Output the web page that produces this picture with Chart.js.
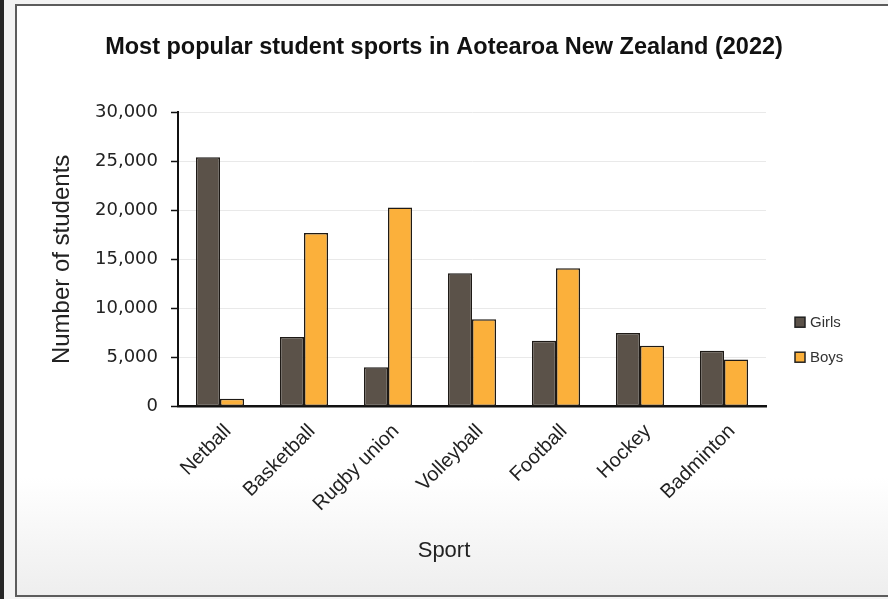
<!DOCTYPE html>
<html>
<head>
<meta charset="utf-8">
<script src="https://cdn.jsdelivr.net/npm/chart.js@4.4.1/dist/chart.umd.min.js"></script>
<style>
  html, body { margin: 0; padding: 0; width: 888px; height: 599px; overflow: hidden; background: #f3f3f3; }
  #strip { position: absolute; left: 0; top: 0; width: 4px; height: 599px; background: #262626; }
  #frame { position: absolute; left: 15px; top: 4px; width: 880px; height: 589px;
           border-top: 2px solid #5c5c5c; border-left: 2px solid #5c5c5c; border-bottom: 2px solid #5c5c5c;
           background: linear-gradient(to bottom, #ffffff 0%, #ffffff 80%, #eeeeee 100%); }
  #c { position: absolute; left: 0; top: 0; }
</style>
</head>
<body>
<div id="strip"></div>
<div id="frame"></div>
<canvas id="c" width="888" height="599"></canvas>
<script>
const categories = ["Netball", "Basketball", "Rugby union", "Volleyball", "Football", "Hockey", "Badminton"];
const girls = [25400, 7100, 4000, 13600, 6700, 7500, 5700];
const boys  = [800, 17700, 20300, 8900, 14100, 6200, 4800];
const seriesNames = ["Girls", "Boys"];
const yTicks = [0, 5000, 10000, 15000, 20000, 25000, 30000];

const legendPlugin = {
  id: 'sideLegend',
  afterDraw(chart) {
    const ctx = chart.ctx;
    const area = chart.chartArea;
    ctx.save();
    ctx.font = '15px "Liberation Sans", Arial, sans-serif';
    ctx.textBaseline = 'middle';
    ctx.textAlign = 'left';
    chart.data.datasets.forEach((ds, i) => {
      const x = area.right + 29;
      const y = area.top + 210 + i * 35;
      ctx.fillStyle = ds.backgroundColor;
      ctx.strokeStyle = '#222';
      ctx.lineWidth = 1.5;
      ctx.fillRect(x, y - 5, 10, 10);
      ctx.strokeRect(x, y - 5, 10, 10);
      ctx.fillStyle = '#333';
      ctx.fillText(ds.label, x + 15, y + 1);
    });
    ctx.restore();
  }
};

new Chart(document.getElementById('c'), {
  type: 'bar',
  data: {
    labels: categories,
    datasets: [
      { label: seriesNames[0], data: girls, backgroundColor: '#5b5249', borderColor: '#1e1a16', borderWidth: 1.5, borderSkipped: false },
      { label: seriesNames[1], data: boys, backgroundColor: '#fbb03b', borderColor: '#1e1a16', borderWidth: 1.5, borderSkipped: false }
    ]
  },
  options: {
    responsive: false,
    devicePixelRatio: 1,
    animation: false,
    layout: { padding: { left: 0, right: 0, top: 0, bottom: 0 } },
    datasets: { bar: { categoryPercentage: 0.573, barPercentage: 1.0 } },
    plugins: {
      legend: { display: false },
      tooltip: { enabled: false },
      title: {
        display: true,
        text: 'Most popular student sports in Aotearoa New Zealand (2022)',
        color: '#111',
        font: { family: '"Liberation Sans", Arial, sans-serif', size: 23.5, weight: 'bold' },
        padding: { top: 33, bottom: 51 }
      },
      subtitle: {
        display: true,
        position: 'bottom',
        text: 'Sport',
        color: '#222',
        font: { family: '"Liberation Sans", Arial, sans-serif', size: 22, weight: 'normal' },
        padding: { top: 0, bottom: 35 }
      }
    },
    scales: {
      x: {
        grid: { display: false },
        border: { display: true, color: '#111', width: 2.5 },
        ticks: {
          color: '#222',
          minRotation: 45, maxRotation: 45,
          padding: 5,
          labelOffset: 8,
          font: { family: '"Liberation Sans", Arial, sans-serif', size: 20 }
        },
        afterFit(s) { s.height = 131; }
      },
      y: {
        min: 0, max: 30000,
        afterBuildTicks(s) { s.ticks = yTicks.map(v => ({ value: v })); },
        grid: { color: '#e9e9e9', lineWidth: 1, tickColor: '#111', tickLength: 7, tickWidth: 1.5 },
        border: { display: true, color: '#111', width: 2 },
        ticks: {
          color: '#222',
          padding: 13,
          font: { family: '"DejaVu Sans", Verdana, sans-serif', size: 18 },
          callback: v => v.toLocaleString('en-US')
        },
        title: {
          display: true,
          text: 'Number of students',
          color: '#222',
          font: { family: '"Liberation Sans", Arial, sans-serif', size: 24 },
          padding: { top: 48, bottom: 0 }
        },
        afterFit(s) { s.width = 178; }
      },
      yR: {
        type: 'linear',
        position: 'right',
        display: true,
        grid: { display: false },
        border: { display: false },
        ticks: { display: false },
        afterFit(s) { s.width = 122; }
      }
    }
  },
  plugins: [legendPlugin]
});
</script>
</body>
</html>
